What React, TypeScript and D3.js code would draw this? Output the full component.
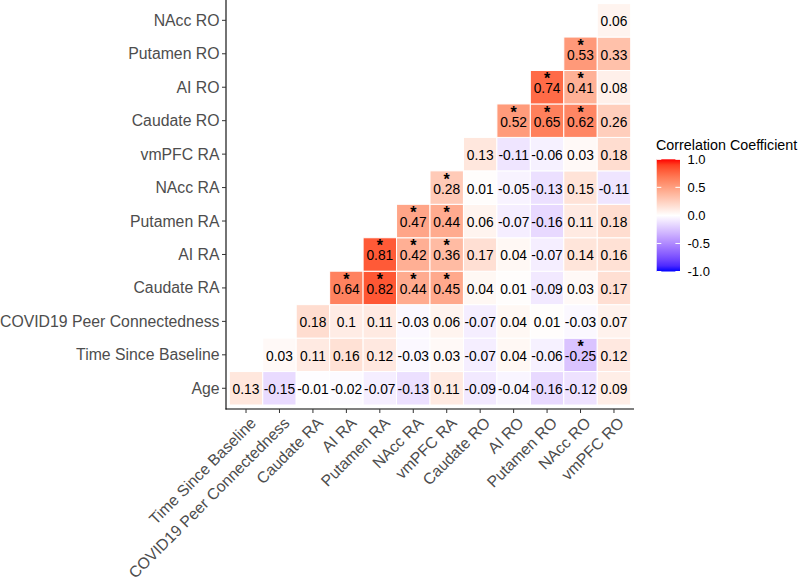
import React from "react";
import * as d3 from "d3";

const columns = [
  "Time Since Baseline",
  "COVID19 Peer Connectedness",
  "Caudate RA",
  "AI RA",
  "Putamen RA",
  "NAcc RA",
  "vmPFC RA",
  "Caudate RO",
  "AI RO",
  "Putamen RO",
  "NAcc RO",
  "vmPFC RO",
];

// rows from bottom to top; row i holds values for columns i..11
const rows = [
  "Age",
  "Time Since Baseline",
  "COVID19 Peer Connectedness",
  "Caudate RA",
  "AI RA",
  "Putamen RA",
  "NAcc RA",
  "vmPFC RA",
  "Caudate RO",
  "AI RO",
  "Putamen RO",
  "NAcc RO",
];

const rowValues: number[][] = [
  [0.13, -0.15, -0.01, -0.02, -0.07, -0.13, 0.11, -0.09, -0.04, -0.16, -0.12, 0.09],
  [0.03, 0.11, 0.16, 0.12, -0.03, 0.03, -0.07, 0.04, -0.06, -0.25, 0.12],
  [0.18, 0.1, 0.11, -0.03, 0.06, -0.07, 0.04, 0.01, -0.03, 0.07],
  [0.64, 0.82, 0.44, 0.45, 0.04, 0.01, -0.09, 0.03, 0.17],
  [0.81, 0.42, 0.36, 0.17, 0.04, -0.07, 0.14, 0.16],
  [0.47, 0.44, 0.06, -0.07, -0.16, 0.11, 0.18],
  [0.28, 0.01, -0.05, -0.13, 0.15, -0.11],
  [0.13, -0.11, -0.06, 0.03, 0.18],
  [0.52, 0.65, 0.62, 0.26],
  [0.74, 0.41, 0.08],
  [0.53, 0.33],
  [0.06],
];

const rowStars: number[][] = [
  [0, 0, 0, 0, 0, 0, 0, 0, 0, 0, 0, 0],
  [0, 0, 0, 0, 0, 0, 0, 0, 0, 1, 0],
  [0, 0, 0, 0, 0, 0, 0, 0, 0, 0],
  [1, 1, 1, 1, 0, 0, 0, 0, 0],
  [1, 1, 1, 0, 0, 0, 0, 0],
  [1, 1, 0, 0, 0, 0, 0],
  [1, 0, 0, 0, 0, 0],
  [0, 0, 0, 0, 0],
  [1, 1, 1, 0],
  [1, 1, 0],
  [1, 0],
  [0],
];

const legendBreaks = [1, 0.5, 0, -0.5, -1];
const legendTitle = "Correlation Coefficient";

const FONT = "'Liberation Sans', Arial, sans-serif";

function fillFor(v: number) {
  if (v >= 0) return d3.interpolateLab("#ffffff", "#ff0000")(Math.min(1, v));
  return d3.interpolateLab("#ffffff", "#0000ff")(Math.min(1, -v));
}

export default function App() {
  const x = d3.scaleBand<string>().domain(columns).range([229.3, 630.7]).padding(0);
  const y = d3
    .scaleBand<string>()
    .domain([...rows].reverse())
    .range([3.6, 405])
    .padding(0);

  const cells: { r: string; c: string; v: number; s: number }[] = [];
  rows.forEach((r, i) => {
    rowValues[i].forEach((v, j) => {
      cells.push({ r, c: columns[i + j], v, s: rowStars[i][j] });
    });
  });

  const axisX = 226;
  const axisY = 409;
  const bw = x.bandwidth();
  const bh = y.bandwidth();

  const leg = d3.scaleLinear().domain([1, -1]).range([159.3, 271.5]);
  const legStops = d3.range(0, 21).map((k) => 1 - k / 10);

  return (
    <svg
      width={800}
      height={580}
      style={{ position: "absolute", left: 0, top: 0, background: "#fff" }}
      fontFamily={FONT}
    >
      <defs>
        <linearGradient id="lg" x1="0" y1="0" x2="0" y2="1">
          {legStops.map((v, k) => (
            <stop key={k} offset={(k / (legStops.length - 1)) * 100 + "%"} stopColor={fillFor(v)} />
          ))}
        </linearGradient>
      </defs>
      <rect x={0} y={0} width={800} height={580} fill="#fff" />
      {cells.map((d, k) => {
        const cx = (x(d.c) as number) + bw / 2;
        const cy = (y(d.r) as number) + bh / 2;
        return (
          <g key={k}>
            <rect
              x={x(d.c)}
              y={y(d.r)}
              width={bw}
              height={bh}
              fill={fillFor(d.v)}
              stroke="#ffffff"
              strokeWidth={1}
            />
            <text
              x={cx}
              y={cy + 1.5}
              textAnchor="middle"
              dominantBaseline="central"
              fontSize={13.8}
              fill="#000"
            >
              {String(d.v)}
            </text>
            {d.s ? (
              <text x={cx} y={cy - 3} textAnchor="middle" fontSize={16} fontWeight="bold" fill="#000">
                *
              </text>
            ) : null}
          </g>
        );
      })}
      {/* axes */}
      <line x1={axisX} x2={axisX} y1={0} y2={axisY + 0.5} stroke="#000" strokeWidth={1.1} />
      <line x1={axisX - 0.5} x2={634} y1={axisY} y2={axisY} stroke="#000" strokeWidth={1.1} />
      {y.domain().map((r) => {
        const cy = (y(r) as number) + bh / 2;
        return (
          <g key={"y" + r}>
            <line x1={axisX - 4} x2={axisX} y1={cy} y2={cy} stroke="#333" strokeWidth={1} />
            <text
              x={axisX - 6.5}
              y={cy}
              textAnchor="end"
              dominantBaseline="central"
              fontSize={15.8}
              fill="#4d4d4d"
            >
              {r}
            </text>
          </g>
        );
      })}
      {x.domain().map((c) => {
        const cx = (x(c) as number) + bw / 2;
        return (
          <g key={"x" + c}>
            <line x1={cx} x2={cx} y1={axisY} y2={axisY + 4} stroke="#333" strokeWidth={1} />
            <text
              transform={`translate(${cx + 3},${axisY + 7}) rotate(-45)`}
              textAnchor="end"
              dy="0.72em"
              fontSize={15.8}
              fill="#4d4d4d"
            >
              {c}
            </text>
          </g>
        );
      })}
      {/* legend */}
      <text x={656} y={149.5} fontSize={14.3} fill="#000">
        {legendTitle}
      </text>
      <rect x={656.7} y={159.3} width={23.3} height={112.2} fill="url(#lg)" />
      {legendBreaks.map((b) => (
        <g key={"l" + b}>
          <line x1={656.7} x2={661.3} y1={leg(b)} y2={leg(b)} stroke="#fff" strokeWidth={1} />
          <line x1={675.4} x2={680} y1={leg(b)} y2={leg(b)} stroke="#fff" strokeWidth={1} />
          <text x={687.5} y={leg(b)} dominantBaseline="central" fontSize={13} fill="#000">
            {d3.format(".1f")(b).replace("−", "-")}
          </text>
        </g>
      ))}
    </svg>
  );
}
